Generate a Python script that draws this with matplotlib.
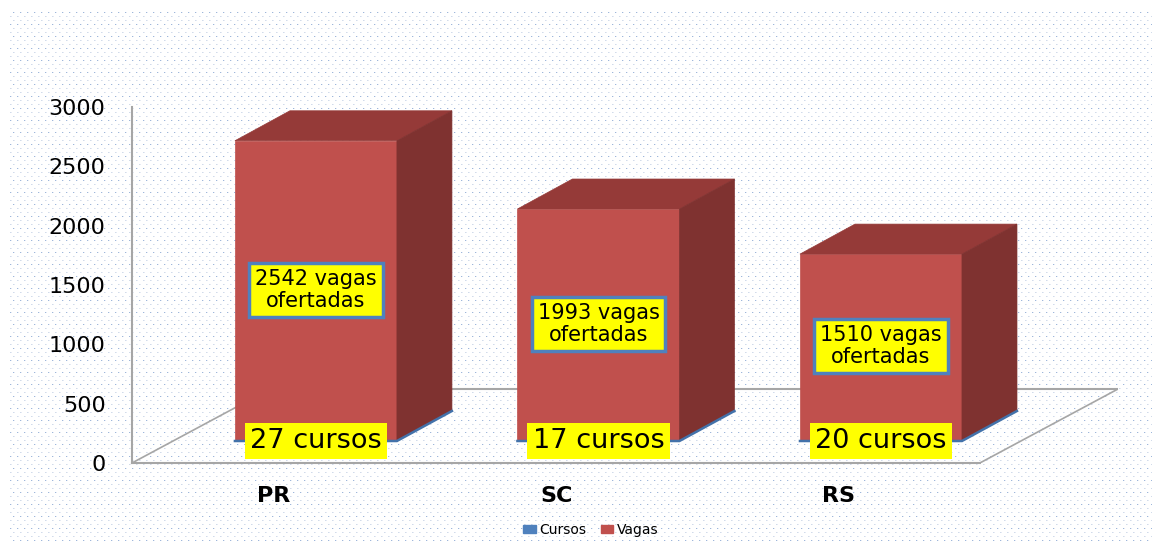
import numpy as np
import matplotlib
matplotlib.use('Agg')
import matplotlib.pyplot as plt
from matplotlib.patches import Polygon, Patch

# Datos
estados = ['PR', 'SC', 'RS']
cursos = [27, 17, 20]
vagas_desenho = [2530, 1955, 1575]
vagas_texto = [2542, 1993, 1510]
ticks_y = [0, 500, 1000, 1500, 2000, 2500, 3000]

W, H = 1156, 541
fig = plt.figure(figsize=(W / 100, H / 100), dpi=100, facecolor='white')
plt.rcParams['font.family'] = 'DejaVu Sans'

# Textura de fondo
fondo = fig.add_axes([0, 0, 1, 1], zorder=0)
img = np.ones((H, W, 3))
for fila in range(12, H, 4):
    desp = 0 if (fila // 4) % 2 == 0 else 3
    tono = [0.62, 0.72, 0.86] if (fila // 4) % 3 == 0 else [0.82, 0.86, 0.92]
    img[fila, 10 + desp:W - 4:7] = tono
    img[fila, 11 + desp:W - 4:7] = [0.90, 0.92, 0.96]
fondo.imshow(img, interpolation='nearest', aspect='auto')
fondo.axis('off')

# Ejes: centros de barra cada 282.5 px, 0 en y=463 px, 3000 en y=107 px
ax = fig.add_axes([132 / W, (H - 463) / H, (1118 - 132) / W, 356 / H], zorder=1)
ax.patch.set_alpha(0)
ax.set_xlim(-0.651, 2.839)
ax.set_ylim(0, 3000)

px_x = 1 / 282.5
px_y = 3000 / 356
prof_x, prof_y = 55 * px_x, 30 * px_y   # profundidad de la barra
suelo_x, suelo_y = 138 * px_x, 74 * px_y  # profundidad del suelo
base = 22 * px_y
ancho = 162 * px_x
y_etiqueta = [(463 - p) * px_y for p in [290, 324, 346]]

gris = '#a6a6a6'
x_fin = 2.35
ax.plot([-0.651, -0.651 + suelo_x], [0, suelo_y], color=gris, lw=1.2, zorder=1)
ax.plot([-0.651 + suelo_x, 2.839], [suelo_y, suelo_y], color=gris, lw=1.5, zorder=1)
ax.plot([x_fin, 2.839], [0, suelo_y], color=gris, lw=1.2, zorder=1)

x = np.arange(len(estados))
for i, v in enumerate(vagas_desenho):
    x0, x1 = x[i] - ancho / 2, x[i] + ancho / 2
    y0, y1 = base, base + v
    ax.add_patch(Polygon([(x0, y1), (x1, y1), (x1, y0), (x0, y0)],
                         fc='#c0504d', ec='#c0504d', lw=0.5, zorder=3))
    ax.add_patch(Polygon([(x0, y1), (x0 + prof_x, y1 + prof_y), (x1 + prof_x, y1 + prof_y), (x1, y1)],
                         fc='#953a38', ec='#953a38', lw=0.5, zorder=3))
    ax.add_patch(Polygon([(x1, y1), (x1 + prof_x, y1 + prof_y), (x1 + prof_x, y0 + prof_y), (x1, y0)],
                         fc='#7f3230', ec='#7f3230', lw=0.5, zorder=3))
    # franja azul de Cursos en la base
    ax.plot([x0, x1, x1 + prof_x], [y0, y0, y0 + prof_y], color='#4372aa', lw=1.8,
            zorder=4, solid_joinstyle='miter')
    ax.text(x[i], y_etiqueta[i], f'{vagas_texto[i]} vagas\nofertadas', ha='center', va='center',
            fontsize=15, color='black', zorder=6, linespacing=1.15,
            bbox=dict(boxstyle='square,pad=0.28', fc='yellow', ec='#4f81bd', lw=2.5))
    ax.text(x[i], 22 * px_y, f'{cursos[i]} cursos', ha='center', va='center',
            fontsize=19.5, color='black', zorder=6,
            bbox=dict(boxstyle='square,pad=0.2', fc='yellow', ec='none'))

# Ejes y etiquetas
for lado in ['top', 'right']:
    ax.spines[lado].set_visible(False)
ax.spines['left'].set_color(gris)
ax.spines['left'].set_linewidth(1.5)
ax.spines['bottom'].set_color(gris)
ax.spines['bottom'].set_linewidth(1.5)
ax.spines['bottom'].set_bounds(-0.651, x_fin)
ax.set_yticks(ticks_y)
ax.tick_params(axis='y', length=0, pad=19, labelsize=16)
ax.set_xticks(x - 42 * px_x)
ax.set_xticklabels(estados, fontsize=16, fontweight='bold')
ax.tick_params(axis='x', length=0, pad=16.5)

leg = fig.legend(handles=[Patch(color='#4f81bd', label='Cursos'), Patch(color='#c0504d', label='Vagas')],
                 loc='center', bbox_to_anchor=(591 / W, (H - 530) / H), ncol=2, frameon=False,
                 fontsize=10, handlelength=0.9, handleheight=0.5, handletextpad=0.3,
                 columnspacing=1.0, borderpad=0)

fig.savefig('out.png', dpi=100, facecolor='white')
